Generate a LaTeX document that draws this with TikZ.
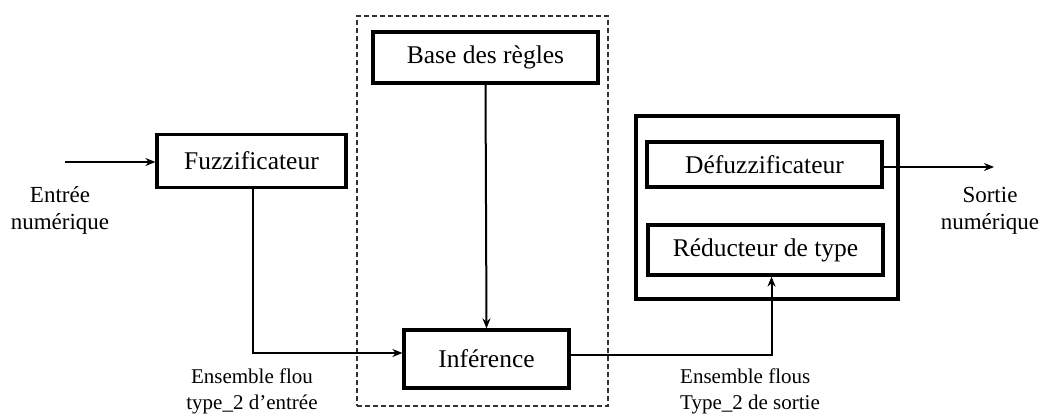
\documentclass[tikz,border=0pt]{standalone}
\usepackage{fontspec}
\setmainfont{Liberation Serif}
\usetikzlibrary{arrows.meta}
\begin{document}
\begin{tikzpicture}[x=1pt,y=-1pt,
  blk/.style={draw=black,line width=3.2pt,inner sep=0pt,font=\fontsize{25.5}{30}\selectfont},
  conn/.style={line width=2pt,-{Stealth[length=10pt,width=8pt]}},
  lbl/.style={inner sep=0pt,align=center,font=\fontsize{23}{27}\selectfont},
  blbl/.style={inner sep=0pt,font=\fontsize{21}{26}\selectfont}]
\useasboundingbox (0,0) rectangle (1040,414);
% dashed group
\node[draw=black!80,line width=1.6pt,dash pattern=on 5pt off 3pt,minimum width=251pt,minimum height=390pt,inner sep=0pt] (grp) at (482.5,211) {};
% outer output box
\node[draw=black,line width=3.4pt,minimum width=262pt,minimum height=183pt,inner sep=0pt] (outer) at (767,207.5) {};
% blocks
\node[blk,minimum width=189pt,minimum height=53pt] (fuz) at (251.5,161) {Fuzzificateur};
\node[blk,minimum width=225pt,minimum height=51pt] (base) at (485.5,57.5) {Base des règles};
\node[blk,minimum width=165pt,minimum height=58pt] (inf) at (486.5,359) {Inférence};
\node[blk,minimum width=235pt,minimum height=45pt] (defuz) at (764.5,164.5) {Défuzzificateur};
\node[blk,minimum width=235pt,minimum height=50pt] (red) at (765.5,250) {Réducteur de type};
% free ends
\coordinate (in) at (65,162);
\coordinate (out) at (994,167);
% connectors
\draw[conn] (in) -- (in -| fuz.west);
\draw[conn] ([xshift=1pt]fuz.south) |- ([yshift=6pt]inf.west);
\draw[conn] (base.south) -- (inf.north);
\draw[conn] ([yshift=4pt]inf.east) -| ([xshift=6pt]red.south);
\draw[conn] ([yshift=-2.5pt]defuz.east) -- (out);
% labels
\node[lbl] (lin) at (60,210) {Entrée\\numérique};
\node[lbl] (lout) at (990,211) {Sortie\\numérique};
\node[blbl,align=center] (lfz) at (252,391.5) {Ensemble flou\\type\_2 d’entrée};
\node[blbl,align=left,anchor=west] (lfs) at (680,391) {Ensemble flous\\Type\_2 de sortie};
\end{tikzpicture}
\end{document}
